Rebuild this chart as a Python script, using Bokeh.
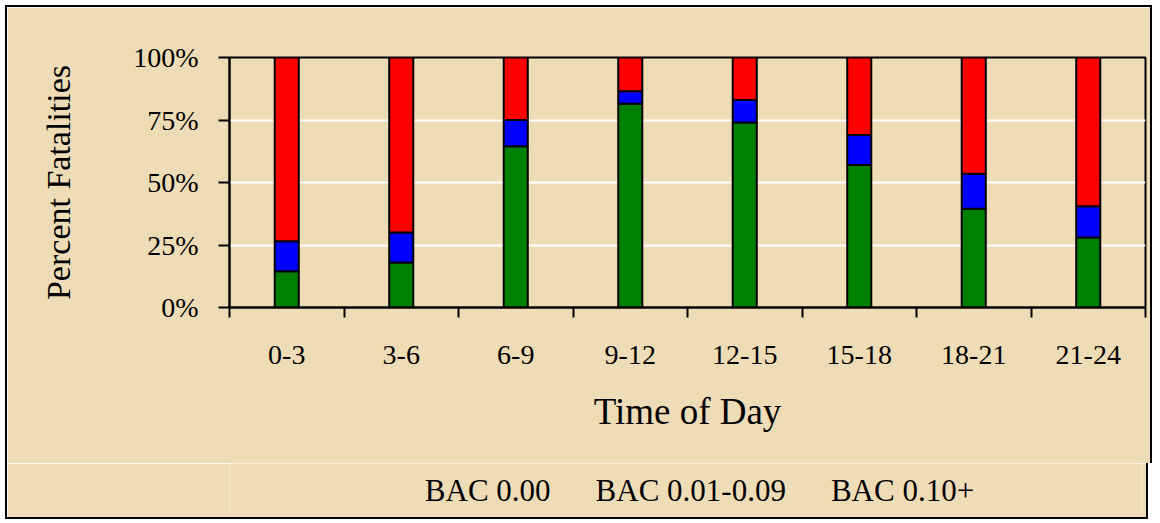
from bokeh.plotting import figure
from bokeh.layouts import column
from bokeh.models import (Range1d, LinearAxis, FixedTicker, CustomJSTickFormatter,
                          PrintfTickFormatter, Legend, LegendItem, Grid, ColumnDataSource)
from bokeh.embed import file_html
from bokeh.resources import INLINE

categories = ["0-3", "3-6", "6-9", "9-12", "12-15", "15-18", "18-21", "21-24"]
bac_000 = [14.5, 18.0, 64.5, 81.5, 74.0, 57.0, 39.5, 28.0]
bac_001_009 = [12.0, 12.0, 10.5, 5.0, 9.0, 12.0, 14.0, 12.5]
bac_010p = [73.5, 70.0, 25.0, 13.5, 17.0, 31.0, 46.5, 59.5]
series_names = ["BAC 0.00", "BAC 0.01-0.09", "BAC 0.10+"]
series_keys = ["g", "b", "r"]
colors = ["#008000", "#0000FF", "#FF0000"]
y_ticks = [0, 25, 50, 75, 100]

FONT = "Liberation Serif"
BG = "#EEDCB7"
EDGE = "2px solid black"

n = len(categories)
centers = [i + 0.5 for i in range(n)]
bounds = list(range(n + 1))
source = ColumnDataSource(dict(x=centers, cat=categories, g=bac_000, b=bac_001_009, r=bac_010p))

# ---------------- main chart ----------------
p = figure(x_range=Range1d(0, n), y_range=Range1d(0, 100),
           frame_width=912, frame_height=248, output_backend="svg", toolbar_location=None,
           x_axis_location=None, y_axis_location=None,
           min_border_left=222, min_border_top=50, min_border_right=9, min_border_bottom=158)
p.styles = {"border-left": EDGE, "border-right": EDGE, "border-top": EDGE}
p.background_fill_color = BG
p.border_fill_color = BG
p.outline_line_color = "black"
p.outline_line_width = 2
for g in p.grid:
    g.visible = False

p.vbar_stack(series_keys, x="x", width=0.21, source=source, color=colors,
             line_color="black", line_width=2)

yaxis = LinearAxis(ticker=FixedTicker(ticks=y_ticks), formatter=PrintfTickFormatter(format="%d%%"))
yaxis.axis_label = "Percent Fatalities"
yaxis.axis_label_text_font = FONT
yaxis.axis_label_text_font_size = "34px"
yaxis.axis_label_text_font_style = "normal"
yaxis.axis_label_text_color = "black"
yaxis.axis_label_standoff = 53
yaxis.major_label_text_font = FONT
yaxis.major_label_text_font_size = "28px"
yaxis.major_label_text_color = "black"
yaxis.major_label_standoff = 20
yaxis.major_tick_in = 0
yaxis.major_tick_out = 11
yaxis.major_tick_line_width = 2
yaxis.minor_tick_line_color = None
yaxis.axis_line_width = 2
p.add_layout(yaxis, "left")

xaxis = LinearAxis(ticker=FixedTicker(ticks=centers, minor_ticks=bounds),
                   formatter=CustomJSTickFormatter(args=dict(cats=categories),
                                                   code="return cats[Math.floor(tick)];"))
xaxis.axis_line_width = 2
xaxis.major_tick_line_color = None
xaxis.major_tick_in = 0
xaxis.major_tick_out = 10
xaxis.minor_tick_in = 0
xaxis.minor_tick_out = 10
xaxis.minor_tick_line_width = 2
xaxis.minor_tick_line_color = "black"
xaxis.major_label_text_font = FONT
xaxis.major_label_text_font_size = "28px"
xaxis.major_label_text_color = "black"
xaxis.major_label_standoff = 28
xaxis.axis_label = "Time of Day"
xaxis.axis_label_text_font = FONT
xaxis.axis_label_text_font_size = "37px"
xaxis.axis_label_text_font_style = "normal"
xaxis.axis_label_text_color = "black"
xaxis.axis_label_standoff = 24
p.add_layout(xaxis, "below")

grid = Grid(dimension=1, ticker=FixedTicker(ticks=y_ticks[1:-1]), grid_line_color="white", grid_line_width=2)
p.add_layout(grid)

# ---------------- legend strip ----------------
leg = figure(x_range=Range1d(0, 1), y_range=Range1d(0, 1), width=1143, height=56,
             output_backend="svg", toolbar_location=None,
             x_axis_location=None, y_axis_location=None,
             min_border_left=0, min_border_right=0, min_border_top=0, min_border_bottom=0)
leg.styles = {"border-left": EDGE, "border-right": EDGE, "border-bottom": EDGE}
leg.background_fill_color = BG
leg.border_fill_color = BG
leg.outline_line_color = None
for g in leg.grid:
    g.visible = False

swatches = [leg.vbar(x=[], top=[], width=0.1, color=c, line_color="black", line_width=2)
            for c in colors]
legend = Legend(items=[LegendItem(label=nm, renderers=[r]) for nm, r in zip(series_names, swatches)],
                orientation="horizontal", location="center")
legend.label_text_font = FONT
legend.label_text_font_size = "31px"
legend.label_text_color = "black"
legend.glyph_width = 21
legend.glyph_height = 21
legend.label_standoff = 8
legend.spacing = 16
legend.border_line_color = None
legend.background_fill_alpha = 0
legend.padding = 0
legend.margin = 0
leg.add_layout(legend, "center")

layout = column(p, leg, spacing=0, styles={"margin-left": "5px", "margin-top": "5px"})

open("out.html", "w").write(file_html(layout, INLINE))
